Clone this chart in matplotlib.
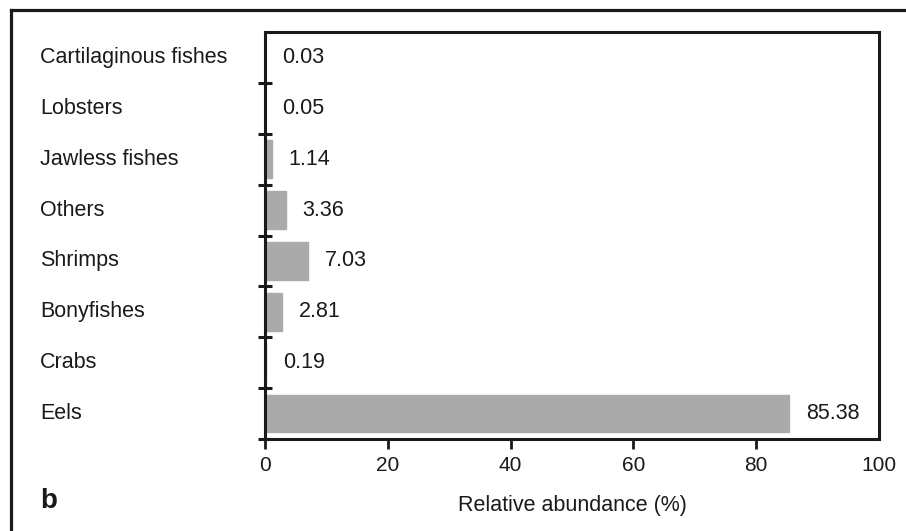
import numpy as np
import matplotlib
matplotlib.use("Agg")
import matplotlib.pyplot as plt
from matplotlib.lines import Line2D

plt.rcParams['font.family'] = ['Liberation Sans', 'DejaVu Sans']

# groups, top to bottom
groups = ["Cartilaginous fishes", "Lobsters", "Jawless fishes", "Others",
          "Shrimps", "Bonyfishes", "Crabs", "Eels"]
abundance = [0.03, 0.05, 1.14, 3.36, 7.03, 2.81, 0.19, 85.38]
value_labels = ["0.03", "0.05", "1.14", "3.36", "7.03", "2.81", "0.19", "85.38"]
x_ticks = [0, 20, 40, 60, 80, 100]

ink = '#1a1a1a'
bar_grey = '#aaaaaa'

fig = plt.figure(figsize=(9.06, 5.31), dpi=100)
ax = fig.add_axes([265/906, 1 - 439/531, (879 - 265)/906, (439 - 32)/531])

y = np.arange(len(groups))
# thin edge so that the tiny values still show as a hairline
ax.barh(y, abundance, height=0.74, color=bar_grey, edgecolor=bar_grey, linewidth=1)

# value labels next to each bar
for yi, v, lab in zip(y, abundance, value_labels):
    ax.annotate(lab, (v, yi), xytext=(12, 0), textcoords='offset points',
                ha='left', va='center', fontsize=15.5, color=ink)

ax.set_xlim(0, 100)
ax.set_ylim(len(groups) - 0.5, -0.5)

for s in ax.spines.values():
    s.set_linewidth(2.2)
    s.set_color(ink)

ax.set_xticks(x_ticks)
ax.tick_params(axis='x', direction='out', length=7, width=2, color=ink,
               labelsize=15, labelcolor=ink, pad=5)
# no tick mark at the right end, only the label
ax.xaxis.get_major_ticks()[-1].tick1line.set_visible(False)

# ticks between categories, labels left aligned
ax.set_yticks(y)
ax.set_yticklabels([])
ax.tick_params(axis='y', which='major', length=0)
ax.set_yticks(np.arange(0.5, len(groups)), minor=True)
ax.tick_params(axis='y', which='minor', direction='inout', length=10, width=2.2, color=ink)
for yi, g in zip(y, groups):
    ax.text((40 - 265)/(879 - 265), yi, g, transform=ax.get_yaxis_transform(),
            ha='left', va='center', fontsize=15.5, color=ink)

ax.set_xlabel("Relative abundance (%)", fontsize=15.5, color=ink, va='center')
ax.xaxis.set_label_coords(0.5, (439 - 506)/(439 - 32))

fig.text(40/906, 1 - 501/531, "b", fontsize=20, fontweight='bold', color=ink,
         ha='left', va='center')

# panel frame (top and left edges)
fig.add_artist(Line2D([11/906, 1], [1 - 9.5/531, 1 - 9.5/531], transform=fig.transFigure,
                      color=ink, linewidth=2.3))
fig.add_artist(Line2D([11/906, 11/906], [0, 1 - 9.5/531], transform=fig.transFigure,
                      color=ink, linewidth=2.3))

fig.savefig("out.png", dpi=100)
